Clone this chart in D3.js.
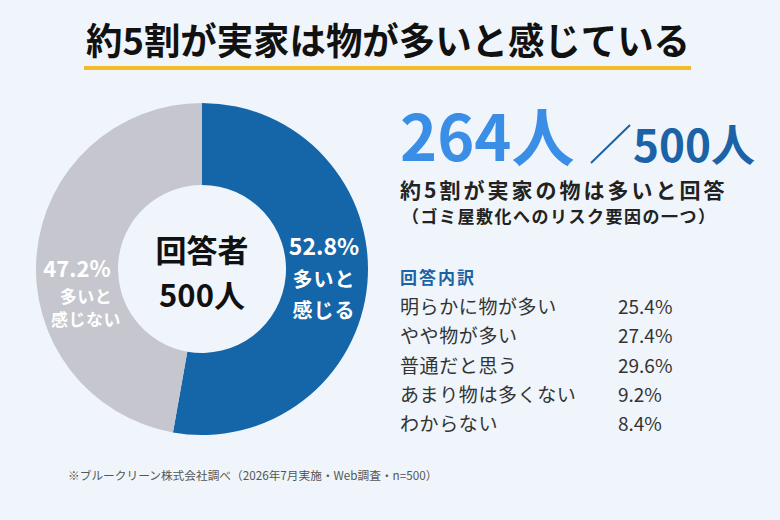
<!DOCTYPE html>
<html><head><meta charset="utf-8">
<script src="https://cdn.jsdelivr.net/npm/d3@7"></script>
<style>
html,body{margin:0;padding:0;background:#eff5fa;}
svg{display:block;}
text{font-family:"Noto Sans CJK JP","Noto Sans",sans-serif;}
</style></head>
<body>
<svg id="chart" width="780" height="520"></svg>
<script>
const title = "約5割が実家は物が多いと感じている";
const sliceNames = ["多いと感じる", "多いと感じない"];
const sliceValues = [52.8, 47.2];
const sliceLabelLines = [["多いと", "感じる"], ["多いと", "感じない"]];
const sliceColors = ["#1565a9", "#c6c6ce"];
const totalRespondents = 500;
const yesCount = 264;
const breakdownLabels = ["明らかに物が多い", "やや物が多い", "普通だと思う", "あまり物は多くない", "わからない"];
const breakdownValues = [25.4, 27.4, 29.6, 9.2, 8.4];
const footnote = "※ブルークリーン株式会社調べ（2026年7月実施・Web調査・n=500）";

const svg = d3.select("#chart");
svg.append("rect").attr("width", 780).attr("height", 520).attr("fill", "#eff5fa");

// Title
svg.append("text").attr("x", 388).attr("y", 55).attr("text-anchor", "middle")
  .attr("font-size", 37).attr("font-weight", 700).attr("fill", "#111")
  .attr("textLength", 604).attr("lengthAdjust", "spacingAndGlyphs")
  .text(title);
svg.append("rect").attr("x", 84).attr("y", 66).attr("width", 607).attr("height", 4).attr("fill", "#f3bb2a");

// Donut
const cx = 202, cy = 269, rOuter = 166, rInner = 84;
const pie = d3.pie().sort(null).value(d => d)(sliceValues);
const arc = d3.arc().innerRadius(rInner).outerRadius(rOuter);
const g = svg.append("g").attr("transform", `translate(${cx},${cy})`);
g.selectAll("path").data(pie).enter().append("path")
  .attr("d", arc).attr("fill", (d, i) => sliceColors[i]);

// Slice labels
const fmt = v => v.toFixed(1) + "%";
const lab = [
  {x: 324, y: 255, ps: 23, ls: 20, lsp: 1, l1: 287, l2: 318, dx: 0},
  {x: 77, y: 277, ps: 22, ls: 17, lsp: 0.5, l1: 303, l2: 326, dx: 9}
];
pie.forEach((d, i) => {
  const L = lab[i];
  svg.append("text").attr("x", L.x).attr("y", L.y).attr("text-anchor", "middle")
    .attr("font-size", L.ps).attr("font-weight", 700).attr("fill", "#fff").text(fmt(sliceValues[i]));
  svg.append("text").attr("x", L.x + L.dx).attr("y", L.l1).attr("text-anchor", "middle")
    .attr("font-size", L.ls).attr("font-weight", 700).attr("letter-spacing", L.lsp).attr("fill", "#fff").text(sliceLabelLines[i][0]);
  svg.append("text").attr("x", L.x + L.dx).attr("y", L.l2).attr("text-anchor", "middle")
    .attr("font-size", L.ls).attr("font-weight", 700).attr("letter-spacing", L.lsp).attr("fill", "#fff").text(sliceLabelLines[i][1]);
});

// Center text
svg.append("text").attr("x", cx).attr("y", 262).attr("text-anchor", "middle")
  .attr("font-size", 31).attr("font-weight", 700).attr("fill", "#111").text("回答者");
svg.append("text").attr("x", cx).attr("y", 307).attr("text-anchor", "middle")
  .attr("font-size", 31).attr("font-weight", 700).attr("fill", "#111").text(totalRespondents + "人");

// Right: big numbers
svg.append("text").attr("x", 400).attr("y", 161)
  .attr("font-size", 63).attr("font-weight", 700).attr("fill", "#3a8ee6").text(yesCount + "人");
svg.append("line").attr("x1", 591).attr("y1", 163).attr("x2", 630).attr("y2", 125)
  .attr("stroke", "#1b62a6").attr("stroke-width", 2);
svg.append("text").attr("x", 633).attr("y", 162)
  .attr("font-size", 44).attr("font-weight", 700).attr("fill", "#1b62a6").text(totalRespondents + "人");

svg.append("text").attr("x", 400).attr("y", 198)
  .attr("font-size", 21).attr("font-weight", 700).attr("letter-spacing", 3).attr("fill", "#222").text("約5割が実家の物は多いと回答");
svg.append("text").attr("x", 402).attr("y", 223)
  .attr("font-size", 17).attr("font-weight", 700).attr("letter-spacing", 1.5).attr("fill", "#222").text("（ゴミ屋敷化へのリスク要因の一つ）");

// Breakdown
svg.append("text").attr("x", 400).attr("y", 284)
  .attr("font-size", 17).attr("font-weight", 700).attr("letter-spacing", 2).attr("fill", "#1b62a6").text("回答内訳");
const rowY = d3.scalePoint().domain(breakdownLabels).range([314, 431]);
breakdownLabels.forEach((lbl, i) => {
  svg.append("text").attr("x", 400).attr("y", rowY(lbl))
    .attr("font-size", 19).attr("letter-spacing", 0.6).attr("fill", "#333").text(lbl);
  svg.append("text").attr("x", 618).attr("y", rowY(lbl))
    .attr("font-size", 19).attr("fill", "#333").text(fmt(breakdownValues[i]));
});

// Footnote
svg.append("text").attr("x", 68).attr("y", 480)
  .attr("font-size", 11.7).attr("fill", "#555").text(footnote);
</script>
</body></html>
